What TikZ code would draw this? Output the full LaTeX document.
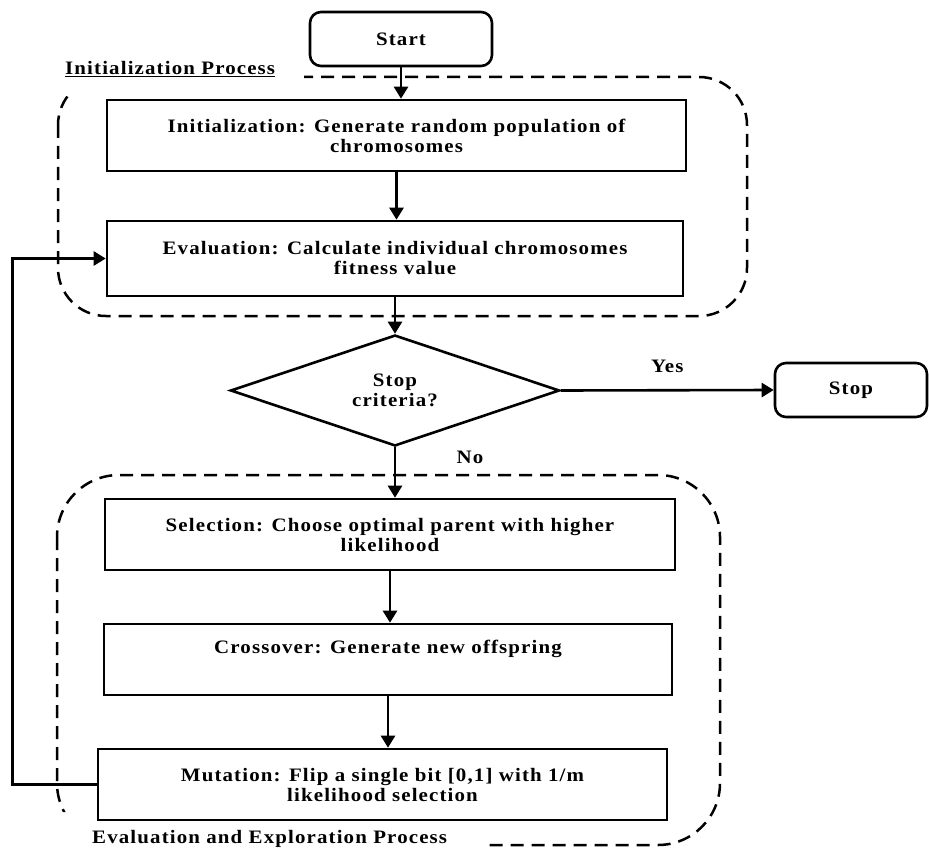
\documentclass[tikz,border=0pt]{standalone}
\usepackage{fontspec}
\setmainfont{Liberation Serif}
\newfontfamily\chartfont{Liberation Serif}[FakeStretch=1.1,LetterSpace=6]
\usetikzlibrary{shapes.geometric,arrows.meta}

\tikzset{
  chart text/.style={font=\fontsize{19}{20}\chartfont\bfseries},
  procbox/.style={draw, line width=2.6pt, rectangle, inner sep=0pt, align=center, chart text},
  termbox/.style={draw, line width=2.6pt, rectangle, rounded corners=11pt, inner sep=0pt, chart text},
  decbox/.style={draw, line width=2.6pt, diamond, aspect=2.96, inner sep=0pt, align=center, chart text},
  flow/.style={line width=2.6pt, -{Triangle[length=12pt,width=14pt]}},
  region/.style={line width=2.5pt, dash pattern=on 13pt off 8pt},
  grouplabel/.style={anchor=base west, inner sep=0pt, chart text},
  edgelabel/.style={inner sep=0pt, chart text}
}

\begin{document}
\begin{tikzpicture}[x=1pt,y=-1pt]
\useasboundingbox (0,0) rectangle (929,848);

% dashed process regions, with the corners under the titles left open
\begin{scope}
  \clip (-10,-10) -- (940,-10) -- (940,860) -- (-10,860) -- cycle
        (30,55) -- (30,95) -- (304,95) -- (304,55) -- cycle
        (30,812) -- (30,860) -- (485,860) -- (485,812) -- cycle;
  \draw[region, rounded corners=48pt] (58,77) rectangle (747,316);
  \draw[region, rounded corners=62pt] (57,475) rectangle (720,845);
\end{scope}

\node[grouplabel] (initlabel) at (65,75) {\underline{Initialization Process}};
\node[grouplabel] (evallabel) at (92,843) {\underline{Evaluation and Exploration Process}};

% flowchart nodes
\node[termbox, minimum width=182pt, minimum height=54pt] (start) at (401,39) {Start};
\node[procbox, minimum width=579pt, minimum height=71pt] (init) at (396.5,135.5)
  {Initialization: Generate random population of\\chromosomes};
\node[procbox, minimum width=576pt, minimum height=75pt] (eval) at (395,258.5)
  {Evaluation: Calculate individual chromosomes\\fitness value};
\node[decbox, minimum width=329pt, minimum height=111pt] (dec) at (395,390.5)
  {Stop\\criteria?};
\node[termbox, minimum width=152pt, minimum height=54pt] (stop) at (851,390) {Stop};
\node[procbox, minimum width=570pt, minimum height=71pt] (sel) at (390,534.5)
  {Selection: Choose optimal parent with higher\\likelihood};
\node[procbox, minimum width=568pt, minimum height=71pt] (cross) at (388,659.5)
  {Crossover: Generate new offspring\\\strut};
\node[procbox, minimum width=569pt, minimum height=71pt] (mut) at (382.5,784.5)
  {Mutation: Flip a single bit [0,1] with 1/m\\likelihood selection};

% connectors
\draw[flow] (start.south) -- (start.south |- init.north);
\draw[flow] (init.south) -- (init.south |- eval.north);
\draw[flow] (eval.south) -- (eval.south |- dec.north);
\draw[flow] (dec.east) -- (stop.west) node[edgelabel, midway, above=16pt] (yes) {Yes};
\draw[flow] (dec.south) -- (dec.south |- sel.north);
\node[edgelabel] (no) at (470,457) {No};
\draw[flow] (sel.south) -- (sel.south |- cross.north);
\draw[flow] (cross.south) -- (cross.south |- mut.north);
\draw[flow] (mut.west) -- ++(-84,0) |- (eval.west);
\end{tikzpicture}
\end{document}
